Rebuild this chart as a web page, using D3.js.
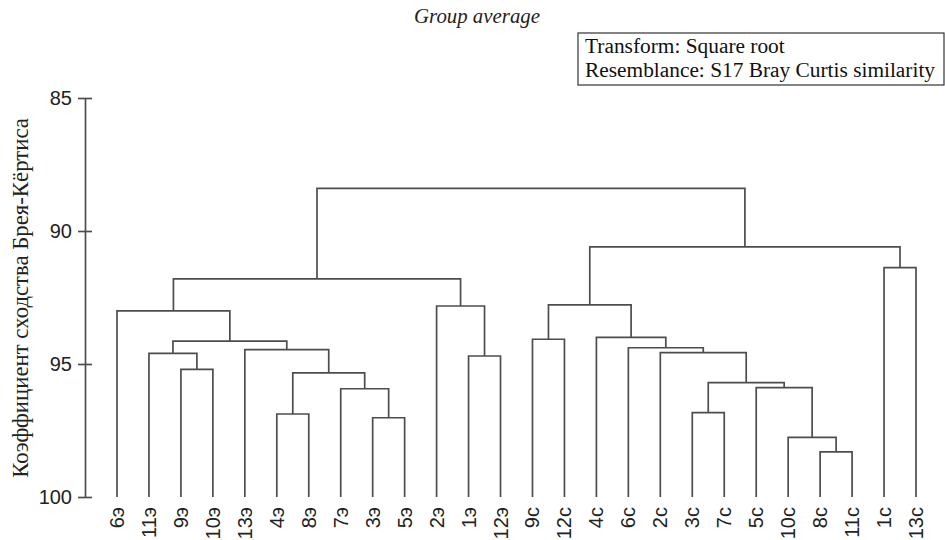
<!DOCTYPE html>
<html>
<head>
<meta charset="utf-8">
<script src="https://cdn.jsdelivr.net/npm/d3@7/dist/d3.min.js"></script>
<style>
  body { margin: 0; background: #fff; }
  svg { display: block; }
</style>
</head>
<body>
<div id="chart"></div>
<script>
// leaf order as shown left to right
var labels = ['6э', '11э', '9э', '10э', '13э', '4э', '8э', '7э', '3э', '5э', '2э', '1э', '12э',
              '9c', '12c', '4c', '6c', '2c', '3c', '7c', '5c', '10c', '8c', '11c', '1c', '13c'];

// merges, hclust style: negative = leaf (1-based), positive = earlier merge (1-based)
var mergeLeft  = [-23, -22, -9, -6, -19, -8, -21, 5, 4, -3, -12, -2, -18, -5, -17, 12, -14, -16, -1, -11, 17, 19, -25, 21, 22];
var mergeRight = [-24,   1, -10, -7, -20,  3,   2, 7, 6, -4, -13, 10,   8,  9,  13, 14, -15,  15, 16,  11, 18, 20, -26, 23, 24];
var mergeLevel = [98.3, 97.76, 97.02, 96.88, 96.83, 95.93, 95.89, 95.7, 95.33, 95.2, 94.7, 94.6,
                  94.57, 94.46, 94.39, 94.14, 94.07, 94.0, 93.0, 92.82, 92.78, 91.8, 91.38, 90.6, 88.4];

var yTicks = [85, 90, 95, 100];

var width = 945, height = 540;
var lineColor = '#4d4d4d';
var sans = '"Liberation Sans", Arial, sans-serif';
var serif = '"Liberation Serif", "Times New Roman", serif';

var svg = d3.select('#chart').append('svg')
    .attr('width', width)
    .attr('height', height);

var x = d3.scalePoint().domain(labels).range([117, 916]);
var y = d3.scaleLinear().domain([85, 100]).range([98, 497]);

// scale a text's font size so it spans the wanted width
var fitText = function(sel, target) {
    var size = parseFloat(sel.style('font-size'));
    var len = sel.node().getComputedTextLength();
    sel.style('font-size', (size * target / len).toFixed(2) + 'px');
};

// build the tree from the merge list
var nodes = [];
var pick = function(i) {
    if (i < 0) {
        var name = labels[-i - 1];
        return { name: name, level: 100, x: x(name) };
    }
    return nodes[i - 1];
};
mergeLeft.forEach(function(a, i) {
    var left = pick(a), right = pick(mergeRight[i]);
    nodes.push({
        children: [left, right],
        level: mergeLevel[i],
        x: (left.x + right.x) / 2
    });
});
var root = d3.hierarchy(nodes[nodes.length - 1]);

var g = svg.append('g').attr('class', 'dendrogram');

g.selectAll('path')
    .data(root.descendants().filter(function(d) { return d.children; }))
    .enter()
    .append('path')
    .attr('d', function(d) {
        var a = d.children[0].data, b = d.children[1].data, h = y(d.data.level);
        return 'M' + a.x + ',' + y(a.level) + 'V' + h + 'H' + b.x + 'V' + y(b.level);
    })
    .attr('fill', 'none')
    .attr('stroke', lineColor)
    .attr('stroke-width', 1.7);

// leaf labels
g.selectAll('text.leaf')
    .data(root.leaves())
    .enter()
    .append('text')
    .attr('class', 'leaf')
    .attr('transform', function(d) { return 'translate(' + d.data.x + ',507) rotate(-90)'; })
    .attr('text-anchor', 'end')
    .attr('dy', '0.35em')
    .style('font-family', sans)
    .style('font-size', '20px')
    .attr('fill', '#222')
    .text(function(d) { return d.data.name; });

// y axis
var axis = svg.append('g')
    .attr('transform', 'translate(85,0)')
    .call(d3.axisLeft(y).tickValues(yTicks).tickSize(7).tickSizeOuter(0).tickPadding(6));

axis.select('.domain').attr('stroke', lineColor).attr('stroke-width', 1.7);
axis.selectAll('.tick line').attr('x1', 7).attr('stroke', lineColor).attr('stroke-width', 1.7);
axis.selectAll('.tick text')
    .style('font-family', sans)
    .style('font-size', '20px')
    .attr('fill', '#222');

var yTitle = svg.append('text')
    .attr('transform', 'translate(28,298) rotate(-90)')
    .attr('text-anchor', 'middle')
    .style('font-family', serif)
    .style('font-size', '21px')
    .attr('fill', '#222')
    .text('Коэффициент сходства Брея-Кёртиса');
fitText(yTitle, 360);

// title
var title = svg.append('text')
    .attr('x', 477)
    .attr('y', 23)
    .attr('text-anchor', 'middle')
    .style('font-family', serif)
    .style('font-style', 'italic')
    .style('font-size', '20px')
    .attr('fill', '#222')
    .text('Group average');
fitText(title, 126);

// info box
var box = svg.append('g');
box.append('rect')
    .attr('x', 578)
    .attr('y', 33)
    .attr('width', 366)
    .attr('height', 52)
    .attr('fill', 'none')
    .attr('stroke', '#333')
    .attr('stroke-width', 1.2);

var boxText = box.selectAll('text')
    .data(['Transform: Square root', 'Resemblance: S17 Bray Curtis similarity'])
    .enter()
    .append('text')
    .attr('x', 585)
    .attr('y', function(d, i) { return 53 + i * 24; })
    .style('font-family', serif)
    .style('font-size', '19.5px')
    .attr('fill', '#111')
    .text(function(d) { return d; });
fitText(d3.select(boxText.nodes()[1]), 350);
boxText.style('font-size', d3.select(boxText.nodes()[1]).style('font-size'));
</script>
</body>
</html>
